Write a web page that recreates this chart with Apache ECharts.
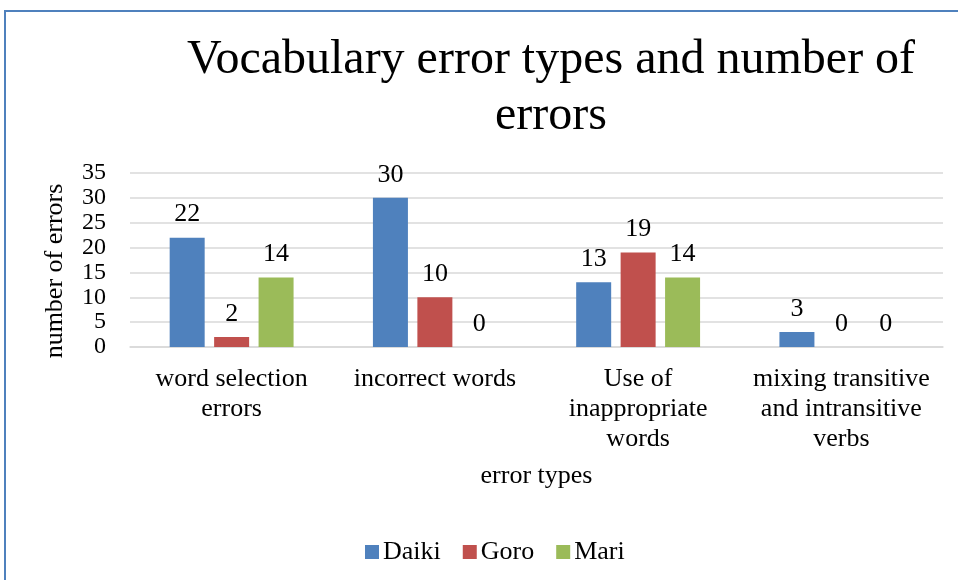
<!DOCTYPE html>
<html>
<head>
<meta charset="utf-8">
<script src="https://cdn.jsdelivr.net/npm/echarts@6/dist/echarts.min.js"></script>
<style>
  html, body { margin: 0; padding: 0; background: #fff; }
  #frame {
    position: absolute; left: 4px; top: 10px; width: 960px; height: 580px;
    border-left: 2px solid #4f81bd; border-top: 2px solid #4f81bd;
    box-sizing: border-box; pointer-events: none; z-index: 2;
  }
  #chart { position: absolute; left: 0; top: 0; width: 958px; height: 580px; }
</style>
</head>
<body>
<div id="chart"></div>
<div id="frame"></div>
<script>
// 错误类型
const categories = [
  "word selection\nerrors",
  "incorrect words",
  "Use of\ninappropriate\nwords",
  "mixing transitive\nand intransitive\nverbs"
];
const daiki = [22, 30, 13, 3];
const goro = [2, 10, 19, 0];
const mari = [14, 0, 14, 0];
const yTicks = [0, 5, 10, 15, 20, 25, 30, 35];

const serif = "'Liberation Serif', 'Times New Roman', serif";
const chart = echarts.init(document.getElementById("chart"));

const labelStyle = {
  show: true,
  position: "top",
  distance: 10,
  color: "#000",
  fontSize: 26,
  fontFamily: serif,
};

function bar(name, data, color) {
  return {
    name: name,
    type: "bar",
    data: data,
    barWidth: 35,
    barGap: "27%",
    itemStyle: { color: color },
    label: labelStyle,
  };
}

chart.setOption({
  animation: false,
  title: {
    text: "Vocabulary error types and number of\nerrors",
    left: 546,
    top: 27,
    textAlign: "center",
    textStyle: {
      fontFamily: serif,
      fontWeight: "normal",
      fontSize: 48,
      lineHeight: 56,
      color: "#000",
    },
  },
  legend: {
    data: ["Daiki", "Goro", "Mari"],
    left: 360,
    top: 534,
    icon: "rect",
    itemWidth: 14,
    itemHeight: 14,
    itemGap: 22,
    textStyle: { fontFamily: serif, fontSize: 26, color: "#000", padding: [0, 0, 0, -1] },
  },
  grid: { left: 130, right: 15, top: 173, bottom: 233 },
  xAxis: {
    type: "category",
    data: categories,
    name: "error types",
    nameLocation: "middle",
    nameGap: 116,
    nameTextStyle: { fontFamily: serif, fontSize: 26, color: "#000" },
    axisLine: { lineStyle: { color: "#d9d9d9", width: 1.5 } },
    axisTick: { show: false },
    axisLabel: {
      interval: 0,
      margin: 17,
      fontFamily: serif,
      fontSize: 26,
      lineHeight: 30,
      color: "#000",
    },
  },
  yAxis: {
    type: "value",
    min: yTicks[0],
    max: yTicks[yTicks.length - 1],
    interval: 5,
    name: "number of errors",
    nameLocation: "middle",
    nameGap: 62,
    nameTextStyle: { fontFamily: serif, fontSize: 26, color: "#000", padding: [0, 22, 0, 0] },
    axisLine: { show: false },
    axisTick: { show: false },
    axisLabel: {
      margin: 24,
      fontFamily: serif,
      fontSize: 24,
      color: "#000",
      showMinLabel: true,
      showMaxLabel: true,
    },
    splitLine: { lineStyle: { color: "#d9d9d9", width: 1.5 } },
  },
  series: [
    bar("Daiki", daiki, "#4f81bd"),
    bar("Goro", goro, "#c0504d"),
    bar("Mari", mari, "#9bbb59"),
  ],
});
</script>
</body>
</html>
